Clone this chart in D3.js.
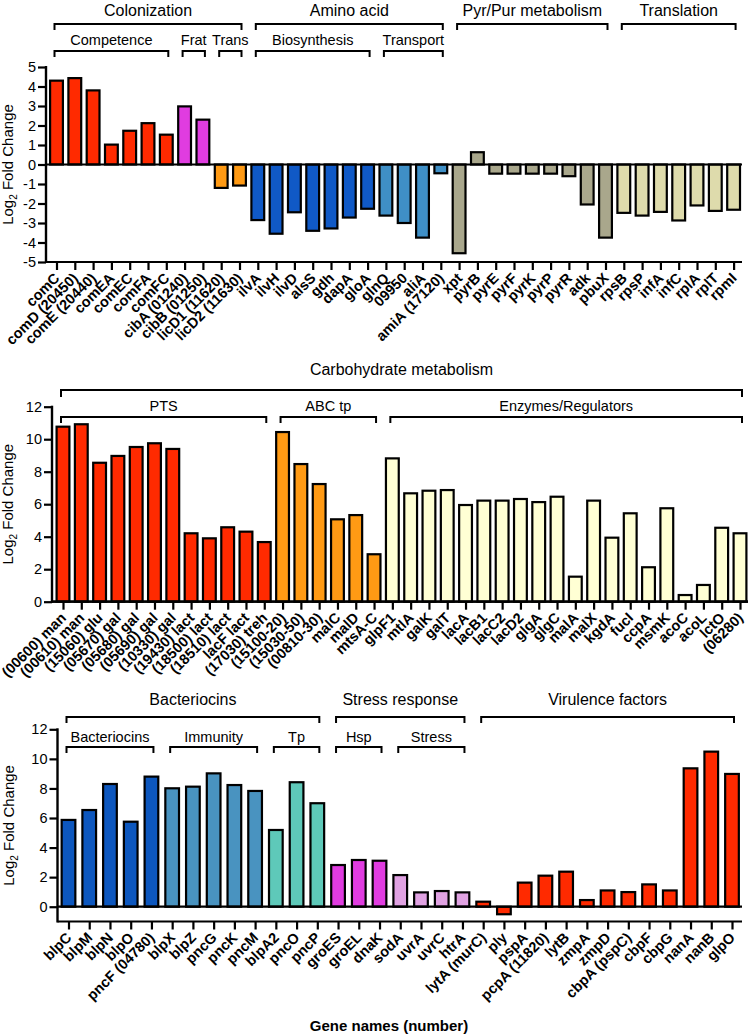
<!DOCTYPE html>
<html>
<head>
<meta charset="utf-8">
<script src="https://cdn.jsdelivr.net/npm/d3@7"></script>
<style>
  body { margin: 0; background: #fff; }
  svg { font-family: "Liberation Sans", Arial, sans-serif; }
</style>
</head>
<body>
<svg id="chart" width="750" height="1035"></svg>
<script>
// ---- panel 1 : colonization / amino acid / pyr-pur / translation
const p1Genes = ["comC", "comD (20450)", "comE (20440)", "comEA", "comEC", "comFA", "comFC",
  "cibA (01240)", "cibB (01250)", "licD1 (11620)", "licD2 (11630)",
  "ilvA", "ilvH", "ilvD", "alsS", "gdh", "dapA", "gloA",
  "glnQ", "09950", "aliA", "amiA (17120)",
  "xpt", "pyrB", "pyrE", "pyrF", "pyrK", "pyrP", "pyrR", "adk", "pbuX",
  "rpsB", "rpsP", "infA", "infC", "rplA", "rplT", "rpmI"]
const p1Values = [4.3, 4.43, 3.8, 1.02, 1.73, 2.12, 1.53,
  2.98, 2.3, -1.2, -1.08,
  -2.85, -3.55, -2.45, -3.4, -3.28, -2.72, -2.27,
  -2.62, -3.0, -3.75, -0.45,
  -4.55, 0.63, -0.47, -0.47, -0.47, -0.47, -0.6, -2.05, -3.75,
  -2.48, -2.62, -2.43, -2.87, -2.1, -2.38, -2.32]
const p1Groups = ["comp", "comp", "comp", "comp", "comp", "comp", "comp",
  "frat", "frat", "trans", "trans",
  "bios", "bios", "bios", "bios", "bios", "bios", "bios",
  "aatp", "aatp", "aatp", "aatp",
  "pyr", "pyr", "pyr", "pyr", "pyr", "pyr", "pyr", "pyr", "pyr",
  "transl", "transl", "transl", "transl", "transl", "transl", "transl"]
const p1Ticks = [-5, -4, -3, -2, -1, 0, 1, 2, 3, 4, 5]
const p1Brackets = [
  {label: "Colonization", from: "comC", to: "licD2 (11630)", level: 0},
  {label: "Amino acid", from: "ilvA", to: "amiA (17120)", level: 0},
  {label: "Pyr/Pur metabolism", from: "xpt", to: "pbuX", level: 0},
  {label: "Translation", from: "rpsB", to: "rpmI", level: 0},
  {label: "Competence", from: "comC", to: "comFC", level: 1},
  {label: "Frat", from: "cibA (01240)", to: "cibB (01250)", level: 1},
  {label: "Trans", from: "licD1 (11620)", to: "licD2 (11630)", level: 1},
  {label: "Biosynthesis", from: "ilvA", to: "gloA", level: 1},
  {label: "Transport", from: "glnQ", to: "amiA (17120)", level: 1}
]

// ---- panel 2 : carbohydrate metabolism
const p2Genes = ["(00600) man", "(00610) man", "(15060) glu", "(05670) gal", "(05680) gal",
  "(05690) gal", "(10330) gal", "(19430) lact", "(18500) lact", "(18510) lact", "lacF lact",
  "(17030) treh",
  "(15100-20)", "(15030-50)", "(00810-30)", "malC", "malD", "mtsA-C",
  "glpF1", "mtlA", "galK", "galT", "lacA", "lacB1", "lacC2", "lacD2", "glgA", "glgC",
  "malA", "malX", "kgdA", "fucI", "ccpA", "msmK", "acoC", "acoL", "lctO", "(06280)"]
const p2Values = [10.77, 10.92, 8.55, 8.97, 9.52, 9.75, 9.4, 4.21, 3.9, 4.58, 4.31, 3.67,
  10.44, 8.47, 7.24, 5.07, 5.33, 2.92,
  8.82, 6.67, 6.83, 6.87, 5.95, 6.22, 6.22, 6.32, 6.13, 6.46,
  1.54, 6.22, 3.94, 5.44, 2.12, 5.75, 0.41, 1.03, 4.55, 4.21]
const p2Groups = ["pts", "pts", "pts", "pts", "pts", "pts", "pts", "pts", "pts", "pts", "pts", "pts",
  "abc", "abc", "abc", "abc", "abc", "abc",
  "enz", "enz", "enz", "enz", "enz", "enz", "enz", "enz", "enz", "enz",
  "enz", "enz", "enz", "enz", "enz", "enz", "enz", "enz", "enz", "enz"]
const p2Ticks = [0, 2, 4, 6, 8, 10, 12]
const p2Brackets = [
  {label: "Carbohydrate metabolism", from: "(00600) man", to: "(06280)", level: 0},
  {label: "PTS", from: "(00600) man", to: "(17030) treh", level: 1},
  {label: "ABC tp", from: "(15100-20)", to: "mtsA-C", level: 1},
  {label: "Enzymes/Regulators", from: "glpF1", to: "(06280)", level: 1}
]

// ---- panel 3 : bacteriocins / stress / virulence
const p3Genes = ["blpC", "blpM", "blpN", "blpO", "pncF (04780)",
  "blpX", "blpZ", "pncG", "pncK", "pncM",
  "blpA2", "pncO", "pncP",
  "groES", "groEL", "dnaK",
  "sodA", "uvrA", "uvrC", "htrA",
  "lytA (murC)", "ply", "pspA", "pcpA (11820)", "lytB", "zmpA", "zmpD", "cbpA (pspC)",
  "cbpF", "cbpG", "nanA", "nanB", "glpO"]
const p3Values = [5.87, 6.54, 8.3, 5.75, 8.8,
  8.01, 8.12, 9.02, 8.23, 7.83,
  5.19, 8.42, 7.0,
  2.82, 3.16, 3.11,
  2.14, 0.97, 1.06, 0.97,
  0.34, -0.51, 1.63, 2.1, 2.37, 0.45, 1.1, 0.99, 1.51, 1.1, 9.36, 10.49, 8.98]
const p3Groups = ["bac", "bac", "bac", "bac", "bac",
  "imm", "imm", "imm", "imm", "imm",
  "tp", "tp", "tp",
  "hsp", "hsp", "hsp",
  "stress", "stress", "stress", "stress",
  "vir", "vir", "vir", "vir", "vir", "vir", "vir", "vir", "vir", "vir", "vir", "vir", "vir"]
const p3Ticks = [0, 2, 4, 6, 8, 10, 12]
const p3Brackets = [
  {label: "Bacteriocins", from: "blpC", to: "pncP", level: 0},
  {label: "Stress response", from: "groES", to: "htrA", level: 0},
  {label: "Virulence factors", from: "lytA (murC)", to: "glpO", level: 0},
  {label: "Bacteriocins", from: "blpC", to: "pncF (04780)", level: 1},
  {label: "Immunity", from: "blpX", to: "pncM", level: 1},
  {label: "Tp", from: "blpA2", to: "pncP", level: 1},
  {label: "Hsp", from: "groES", to: "dnaK", level: 1},
  {label: "Stress", from: "sodA", to: "htrA", level: 1}
]

const colors = {
  comp: "#ff2a00", frat: "#e03ce0", trans: "#ff9a14", bios: "#1059c6", aatp: "#3f8fc6",
  pyr: "#a9a78c", transl: "#dedbac",
  pts: "#ff2a00", abc: "#ff9a14", enz: "#ffffd4",
  bac: "#0d57be", imm: "#4993c0", tp: "#5ec9b9", hsp: "#e03ce0", stress: "#e0a2e2", vir: "#ff2a00"
}

const svg = d3.select("#chart")

function drawPanel(p) {
  const x = d3.scalePoint().domain(p.genes).range(p.xRange)
  const y = d3.scaleLinear().domain(p.yDomain).range(p.yRange)
  const barW = x.step() * p.barFrac
  const g = svg.append("g")

  // bars
  g.selectAll(".bar")
    .data(p.values)
    .enter()
    .append("rect")
    .attr("class", "bar")
    .attr("x", (d, i) => x(p.genes[i]) - barW / 2)
    .attr("y", d => y(Math.max(0, d)))
    .attr("width", barW)
    .attr("height", d => Math.abs(y(d) - y(0)))
    .attr("fill", (d, i) => colors[p.groups[i]])
    .attr("stroke", "#000")
    .attr("stroke-width", 2.2)

  // y axis
  const yAxis = g.append("g")
    .attr("transform", "translate(" + p.axisX + ",0)")
    .call(d3.axisLeft(y).tickValues(p.ticks).tickSize(8).tickPadding(2).tickFormat(d => String(d)))
  yAxis.select(".domain").remove()
  yAxis.selectAll("line").attr("stroke-width", 2.2)
  yAxis.selectAll("text").attr("font-size", 14.5).attr("fill", "#000").attr("font-family", "Liberation Sans, Arial, sans-serif")
  g.append("line")
    .attr("x1", p.axisX).attr("x2", p.axisX)
    .attr("y1", y(p.yDomain[1]) - 1).attr("y2", y(p.yDomain[0]) + 1)
    .attr("stroke", "#000").attr("stroke-width", 2.4)

  // zero line + x axis line
  g.append("line")
    .attr("x1", p.axisX).attr("x2", p.axisRight)
    .attr("y1", y(0)).attr("y2", y(0))
    .attr("stroke", "#000").attr("stroke-width", 2.2)
  const baseY = y(p.yDomain[0])
  const xAxis = g.append("g")
    .attr("transform", "translate(0," + baseY + ")")
    .call(d3.axisBottom(x).tickSize(8).tickFormat(""))
  xAxis.select(".domain").remove()
  xAxis.selectAll("line").attr("stroke-width", 2.2)
  g.append("line")
    .attr("x1", p.axisX).attr("x2", p.axisRight)
    .attr("y1", baseY).attr("y2", baseY)
    .attr("stroke", "#000").attr("stroke-width", 2.2)

  // rotated gene labels
  g.selectAll(".gene")
    .data(p.genes)
    .enter()
    .append("text")
    .attr("class", "gene")
    .attr("transform", d => "translate(" + (x(d) + 4) + "," + (baseY + 17) + ") rotate(-45)")
    .attr("text-anchor", "end")
    .attr("font-size", 14.5)
    .attr("font-weight", "bold")
    .text(d => d)

  // y label
  const yl = g.append("text")
    .attr("transform", "translate(" + p.yLabelX + "," + (p.yRange[0] + p.yRange[1]) / 2 + ") rotate(-90)")
    .attr("text-anchor", "middle")
    .attr("font-size", 15)
  yl.append("tspan").text("Log")
  yl.append("tspan").attr("font-size", 10).attr("dy", 4).text("2")
  yl.append("tspan").attr("dy", -4).text(" Fold Change")

  // brackets
  p.brackets.forEach(b => {
    const lv = p.levels[b.level]
    const x1 = x(b.from) - 2
    const x2 = x(b.to) + 2
    g.append("path")
      .attr("d", "M" + x1 + "," + lv.tick + "V" + lv.line + "H" + x2 + "V" + lv.tick)
      .attr("fill", "none")
      .attr("stroke", "#000")
      .attr("stroke-width", 2)
    g.append("text")
      .attr("x", (x1 + x2) / 2)
      .attr("y", lv.text)
      .attr("text-anchor", "middle")
      .attr("font-size", b.level === 0 ? 16 : 14.5)
      .text(b.label)
  })
}

drawPanel({
  genes: p1Genes, values: p1Values, groups: p1Groups, brackets: p1Brackets, ticks: p1Ticks,
  xRange: [56.5, 733.6], yDomain: [-5, 5], yRange: [262, 67], barFrac: 0.7,
  axisX: 46, axisRight: 742, yLabelX: 13,
  levels: [{text: 16, line: 24, tick: 30}, {text: 45, line: 51, tick: 57}]
})

drawPanel({
  genes: p2Genes, values: p2Values, groups: p2Groups, brackets: p2Brackets, ticks: p2Ticks,
  xRange: [63, 740], yDomain: [0, 12], yRange: [601.7, 406.7], barFrac: 0.7,
  axisX: 52, axisRight: 748, yLabelX: 13,
  levels: [{text: 375, line: 390, tick: 397}, {text: 411, line: 417, tick: 423}]
})

drawPanel({
  genes: p3Genes, values: p3Values, groups: p3Groups, brackets: p3Brackets, ticks: p3Ticks,
  xRange: [68.5, 732], yDomain: [-1, 12], yRange: [921.5, 729.3], barFrac: 0.66,
  axisX: 57.5, axisRight: 742, yLabelX: 14,
  levels: [{text: 705, line: 717, tick: 723}, {text: 741.5, line: 747, tick: 753}]
})

svg.append("text")
  .attr("x", 389)
  .attr("y", 1031)
  .attr("text-anchor", "middle")
  .attr("font-size", 15)
  .attr("font-weight", "bold")
  .text("Gene names (number)")
</script>
</body>
</html>
